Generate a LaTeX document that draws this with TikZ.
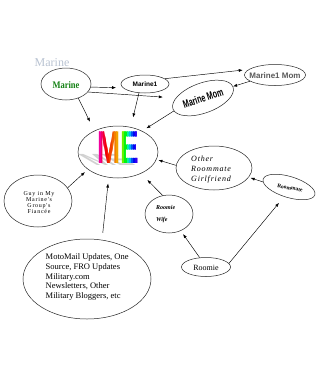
\documentclass[tikz,border=0pt]{standalone}
\usepackage{fontspec}
\setmainfont{Liberation Serif}
\newfontfamily\sansf{Liberation Sans}
\newfontfamily\spacedf[LetterSpace=12]{Liberation Serif}
\newfontfamily\handf[LetterSpace=10]{Liberation Serif}
\usetikzlibrary{shapes.geometric,arrows.meta}
\definecolor{mgreen}{RGB}{20,130,20}
\definecolor{ghost}{RGB}{185,195,210}
\begin{document}
\begin{tikzpicture}[x=1pt,y=-1pt,
  bub/.style={draw=black!85, line width=0.5pt, ellipse, inner sep=0pt},
  con/.style={draw=black, line width=0.45pt, -{Latex[length=4pt,width=3pt]}},
  txt/.style={inner sep=0pt},
  metxt/.style={inner sep=0pt, font=\sansf\bfseries\fontsize{46}{46}\selectfont, xscale=0.6}
]
\fill[white] (0,0) rectangle (326,388);
\useasboundingbox (0,0) rectangle (326,388);

% ghost title
\node[txt, text=ghost, font=\fontsize{12}{12}\selectfont] (ghost-t) at (52,63) {Marine};

% ellipses
\node[bub, minimum width=50pt, minimum height=32pt] (marine) at (66,84) {};
\node[bub, minimum width=48pt, minimum height=18pt] (marine1) at (145,84) {};
\node[bub, minimum width=61pt, minimum height=21pt] (m1mom) at (275,75) {};
\node[bub, minimum width=64pt, minimum height=30pt, rotate=20] (mmom) at (203,98) {};
\node[bub, minimum width=80pt, minimum height=52pt] (me) at (118,152) {};
\node[bub, minimum width=76pt, minimum height=44pt] (org) at (214,168) {};
\node[bub, minimum width=54pt, minimum height=21pt, rotate=-17] (roommate) at (289,187) {};
\node[bub, minimum width=68pt, minimum height=52pt] (guy) at (38,201) {};
\node[bub, minimum width=48pt, minimum height=38pt] (rwife) at (169,214) {};
\node[bub, minimum width=128pt, minimum height=80pt] (moto) at (87,279) {};
\node[bub, minimum width=49pt, minimum height=19pt] (roomie) at (206,267) {};

% texts
\node[txt, text=mgreen, font=\bfseries\fontsize{10}{10}\selectfont, xscale=0.85] (marine-t) at (66,85) {Marine};
\node[txt, font=\sansf\bfseries\fontsize{6.5}{6.5}\selectfont] (marine1-t) at (145,84) {Marine1};
\node[txt, text=black!65, font=\sansf\bfseries\fontsize{8}{8}\selectfont] (m1mom-t) at (275,75.5) {Marine1 Mom};
\node[txt, font=\sansf\bfseries\fontsize{11}{11}\selectfont, rotate=18, xscale=0.65] (mmom-t) at (203,98) {Marine Mom};

% ME with shadow and rainbow
\node[metxt, text=black!18, yscale=0.35, xslant=-1.0, anchor=south] (me-shadow) at (116,166) {ME};
\foreach \h [count=\i from 0] in {310,322,335,348,358,8,16,24,32,40,52,72,95,125,160,195,220,238,252,268}{
  \definecolor{tmpc}{Hsb}{\h,1,0.95}
  \colorlet{stripc}[rgb]{tmpc}
  \begin{scope}
    \clip ({97+\i*2.15},125) rectangle ({97+(\i+1)*2.15+0.3},170);
    \node[metxt, text=stripc] at (118.5,147.5) {ME};
  \end{scope}
}

\node[txt, align=left, anchor=west, font=\handf\itshape\fontsize{8}{10}\selectfont] (org-t) at (191,170) {Other\\Roommate\\Girlfriend};
\node[txt, rotate=-10, font=\bfseries\fontsize{5.5}{5.5}\selectfont] (roommate-t) at (290,188) {Roommate};
\node[txt, align=center, font=\spacedf\fontsize{6}{6.3}\selectfont] (guy-t) at (39,202.5) {Guy in My\\Marine's\\Group's\\Fianc\'ee};
\node[txt, align=left, anchor=west, font=\bfseries\itshape\fontsize{6}{12}\selectfont] (rwife-t) at (156,214) {Roomie\\Wife};
\node[txt, align=left, anchor=west, font=\fontsize{8.5}{9.6}\selectfont] (moto-t) at (45.5,277) {MotoMail Updates, One\\Source, FRO Updates\\Military.com\\Newsletters, Other\\Military Bloggers, etc};
\node[txt, font=\fontsize{8}{8}\selectfont] (roomie-t) at (206,267.5) {Roomie};

% connectors
\draw[con, shorten >=7pt] (marine.-7) -- (marine1.190);
\draw[con, shorten >=13pt] (marine.-20) -- (mmom.160);
\draw[con, shorten >=10pt] (marine.-49) -- (me.138);
\draw[con, shorten >=10pt] (marine1.236) -- (me.63);
\draw[con, shorten >=6pt] (marine1.15) -- (m1mom.168);
\draw[con] (m1mom.194) -- (mmom.1);
\draw[con, shorten >=5pt] (mmom.184) -- (me.41);
\draw[con, shorten >=2pt] (org.176) -- (me.-11);
\draw[con, shorten >=2pt] (roommate.186) -- (org.-15);
\draw[con, shorten >=9pt] (rwife.109) -- (me.-43);
\draw[con, shorten >=4pt] (guy.24) -- (me.210);
\draw[con, shorten <=7pt, shorten >=6pt] (moto.69) -- (me.250);
\draw[con, shorten >=4pt] (roomie.124) -- (rwife.-55);
\draw[con, shorten >=8pt] (roomie.9) -- (roommate.260);
\end{tikzpicture}
\end{document}
